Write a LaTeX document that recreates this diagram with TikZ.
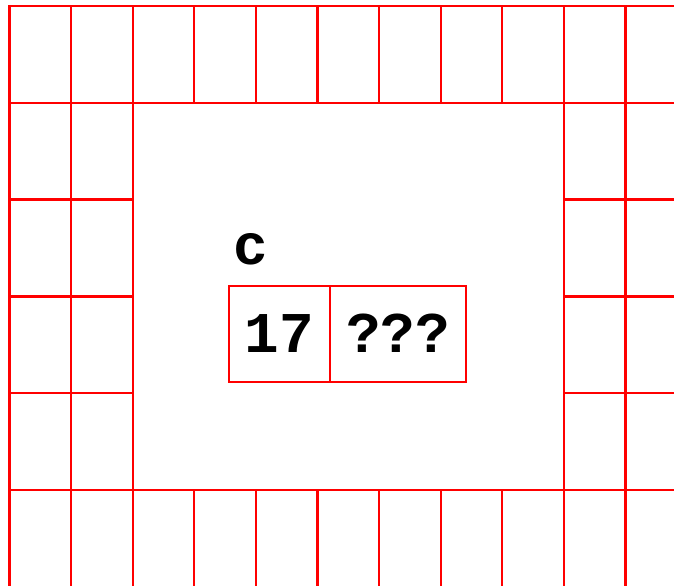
\documentclass[tikz,border=0pt]{standalone}
\usepackage{fontspec}
\setmonofont{Liberation Mono}
\usetikzlibrary{positioning}
\definecolor{memred}{HTML}{FF0000}

\begin{document}
\begin{tikzpicture}[
    x=0.025cm, y=-0.025cm,
    cell/.style={draw=memred, line width=1.6pt},
    slot/.style={draw=memred, line width=1.3pt, minimum height=2.4cm,
                 inner sep=0pt, outer sep=0pt,
                 font=\fontsize{41}{45}\selectfont\ttfamily\bfseries},
    varname/.style={inner sep=0pt,
                 font=\fontsize{41}{45}\selectfont\ttfamily\bfseries},
]
    \useasboundingbox[fill=white] (0,0) rectangle (674,585);
    % memory cells round the frame
    \begin{scope}
        \clip (0,0) rectangle (674,585);
        \foreach \i in {0,...,10} {
            \foreach \j in {0,...,5} {
                \pgfmathtruncatemacro\inside{(\i>1)*(\i<9)*(\j>0)*(\j<5)}
                \ifnum\inside=0
                    \draw[cell] ({9.5+61.6*\i},{6+96.8*\j}) rectangle ++(61.6,96.8);
                \fi
            }
        }
    \end{scope}

    \node[slot, minimum width=2.51cm] (num) at (279.5,333.7) {17};
    \node[slot, minimum width=3.41cm, right=0pt of num] (unk) {???};
    \node[varname, above right=14.7pt and 3pt of num.north west] (var) {c};
\end{tikzpicture}
\end{document}
